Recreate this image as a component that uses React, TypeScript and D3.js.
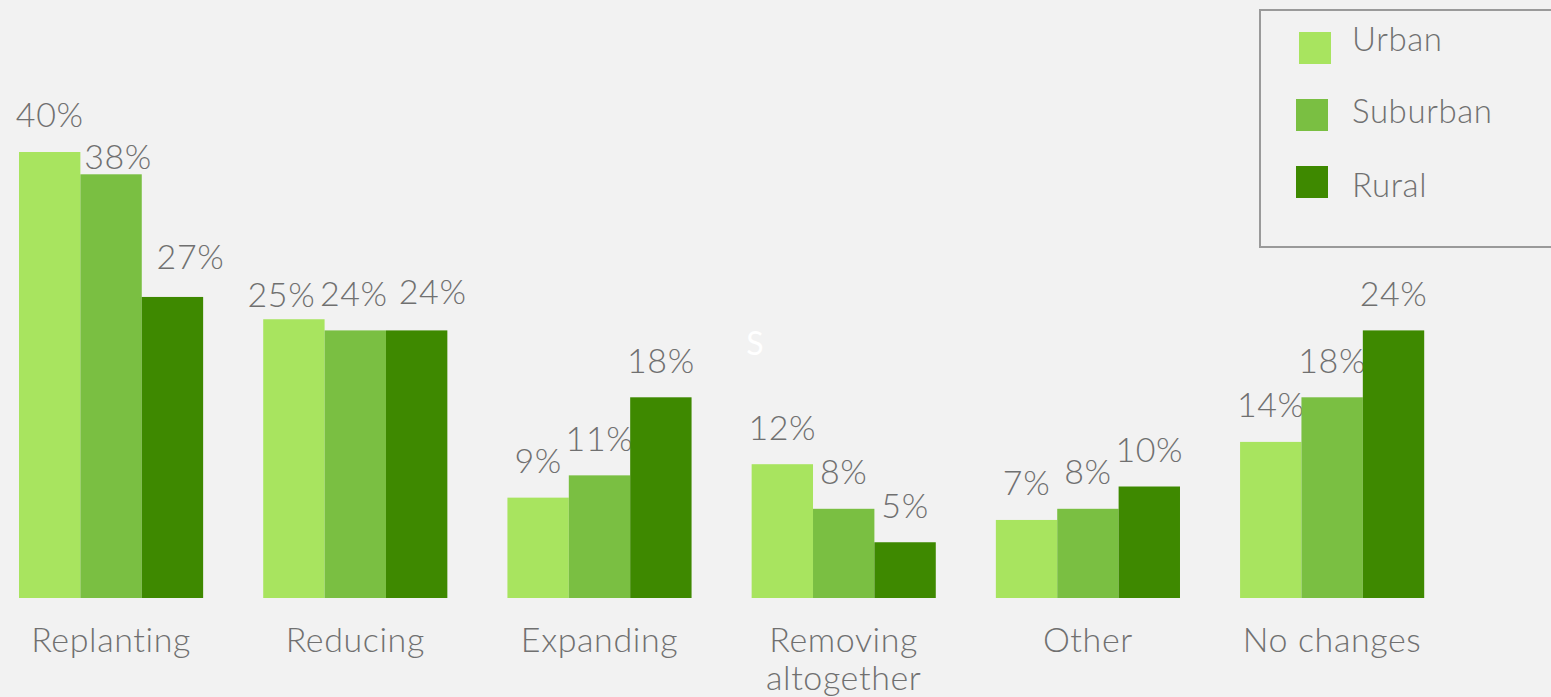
import React from "react";
import * as d3 from "d3";

const categories = ["Replanting", "Reducing", "Expanding", "Removing altogether", "Other", "No changes"];
const series = ["Urban", "Suburban", "Rural"];
const urban = [40, 25, 9, 12, 7, 14];
const suburban = [38, 24, 11, 8, 8, 18];
const rural = [27, 24, 18, 5, 10, 24];
const colors = ["#a8e45f", "#7abf42", "#3e8900"];
// label nudges [dx, dy] per category per series (to avoid overlaps, as in the reference)
const labelNudges: [number, number][][] = [
  [[0, -1], [7, 19.5], [18, -3.5]],
  [[-12.5, 12.5], [-1.5, 0.5], [16, -2]],
  [[0, 0], [0, 0], [0, 0]],
  [[0, 0], [0, 0], [0, 0]],
  [[0, 0], [0, 0], [0, 0]],
  [[0, 0], [0, 0], [0, 0]],
];

const W = 1551;
const H = 697;
const FONT = "Lato, 'Open Sans', sans-serif";
const TEXT = "#707070";
const WEIGHT = 300;
const LS = 0.6;

export default function App() {
  const valuesBySeries = [urban, suburban, rural];
  const x = d3.scaleBand<string>().domain(categories).range([19, 1424.2]).paddingInner(0.246).paddingOuter(0);
  const xs = d3.scaleBand<string>().domain(series).range([0, x.bandwidth()]).padding(0);
  const y = d3.scaleLinear().domain([0, 40]).range([598, 152]);

  return (
    <svg width={W} height={H} style={{ position: "absolute", left: 0, top: 0, display: "block" }}>
      <rect x={0} y={0} width={W} height={H} fill="#f2f2f2" />
      {categories.map((c, ci) => (
        <g key={c} transform={`translate(${x(c)},0)`}>
          {series.map((s, si) => {
            const v = valuesBySeries[si][ci];
            const bx = xs(s)!;
            const bw = xs.bandwidth();
            const [dx, dy] = labelNudges[ci][si];
            return (
              <g key={s}>
                <rect x={bx} y={y(v)} width={bw} height={y(0) - y(v)} fill={colors[si]} />
                <text
                  x={bx + bw / 2 + dx}
                  y={y(v) - 24.5 + dy}
                  textAnchor="middle"
                  fontFamily={FONT}
                  fontWeight={WEIGHT}
                  fontSize={34}
                  letterSpacing={LS}
                  fill={TEXT}
                >
                  {v}%
                </text>
              </g>
            );
          })}
          {c === "Removing altogether" ? (
            <text x={x.bandwidth() / 2} y={651.5} textAnchor="middle" fontFamily={FONT} fontWeight={WEIGHT} fontSize={34} letterSpacing={LS} fill={TEXT}>
              <tspan x={x.bandwidth() / 2} dy={0}>Removing</tspan>
              <tspan x={x.bandwidth() / 2} dy={38}>altogether</tspan>
            </text>
          ) : (
            <text x={x.bandwidth() / 2} y={651.5} textAnchor="middle" fontFamily={FONT} fontWeight={WEIGHT} fontSize={34} letterSpacing={LS} fill={TEXT}>
              {c}
            </text>
          )}
        </g>
      ))}
      <text x={755} y={355} textAnchor="middle" fontFamily={FONT} fontSize={32} fill="#ffffff">S</text>
      <g>
        <rect x={1260} y={10} width={320} height={237} fill="none" stroke="#9a9a9a" strokeWidth={2} />
        {series.map((s, si) => {
          const sy = [32, 99, 166][si];
          const sx = [1299, 1296, 1296][si];
          return (
            <g key={s}>
              <rect x={sx} y={sy} width={32} height={32} fill={colors[si]} />
              <text x={1352} y={[51, 123, 197][si]} fontFamily={FONT} fontWeight={WEIGHT} fontSize={33} letterSpacing={LS} fill={TEXT}>
                {s}
              </text>
            </g>
          );
        })}
      </g>
    </svg>
  );
}
